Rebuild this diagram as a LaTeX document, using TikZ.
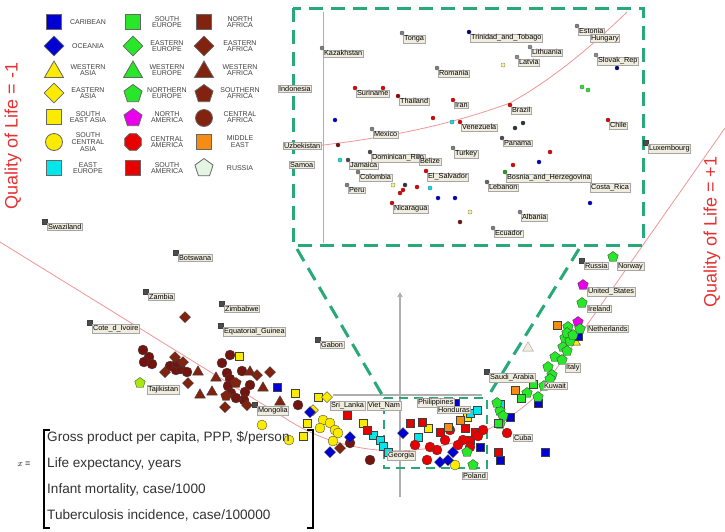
\documentclass[tikz,border=0pt]{standalone}
\usepackage{fontspec}
\setmainfont{Liberation Sans}
\usetikzlibrary{shapes.geometric,arrows.meta}

\definecolor{zoomgreen}{RGB}{40,170,120}
\definecolor{curvered}{RGB}{240,150,150}
\definecolor{axisgray}{RGB}{175,175,175}
\definecolor{labfill}{RGB}{240,236,222}
\definecolor{mblue}{RGB}{0,0,210}
\definecolor{myellow}{RGB}{250,235,0}
\definecolor{mcyan}{RGB}{0,230,235}
\definecolor{mgreen}{RGB}{40,230,40}
\definecolor{mmag}{RGB}{235,0,235}
\definecolor{mred}{RGB}{230,0,0}
\definecolor{mbrown}{RGB}{130,35,15}
\definecolor{mbrownc}{RGB}{115,20,15}
\definecolor{morange}{RGB}{245,140,20}
\definecolor{mpale}{RGB}{228,245,228}
\definecolor{axred}{RGB}{230,50,50}

\newcommand\labfont{\fontsize{7.3}{7.6}\selectfont}
\newcommand\legfont{\fontsize{7}{6.8}\selectfont}

\begin{document}
\begin{tikzpicture}[x=1pt,y=-1pt,
  mk/.style={draw=black!75, line width=0.35pt, inner sep=0pt, outer sep=0pt},
  msq/.style={mk, rectangle, minimum size=8.5pt},
  mdi/.style={mk, diamond, minimum size=11pt},
  mtr/.style={mk, regular polygon, regular polygon sides=3, minimum size=12.5pt},
  mpe/.style={mk, regular polygon, regular polygon sides=5, minimum size=11pt},
  mci/.style={mk, circle, minimum size=10pt},
  lk/.style={mk, rectangle, minimum size=5pt, fill=black!70},
  dot/.style={circle, draw=black!70, line width=0.2pt, inner sep=0pt, minimum size=4.2pt},
  lab/.style={draw=black!35, fill=labfill, inner sep=0.9pt, font=\labfont, anchor=north west},
  lg/.style={draw=black!60, line width=0.8pt, inner sep=0pt},
  lsq/.style={lg, rectangle, minimum size=15pt},
  ldi/.style={lg, diamond, minimum size=20pt},
  ltr/.style={lg, regular polygon, regular polygon sides=3, minimum size=22pt},
  lpe/.style={lg, regular polygon, regular polygon sides=5, minimum size=19pt},
  lci/.style={lg, circle, minimum size=17pt},
  loc/.style={lg, regular polygon, regular polygon sides=8, minimum size=18pt},
  lgt/.style={font=\legfont, align=center, text=black!75},
  zoomdash/.style={draw=zoomgreen, line width=3pt, dash pattern=on 14pt off 8pt},
  curve/.style={draw=curvered, line width=0.8pt},
  axlab/.style={text=axred, font=\fontsize{18}{19}\selectfont, rotate=90}
]
\useasboundingbox (0,0) rectangle (725,531);
\fill[white] (0,0) rectangle (725,531);

% ---------------- principal curve ----------------
\draw[curve] (0,242) -- (285,418) .. controls (360,468) and (470,462) .. (540,392) -- (725,128);

% ---------------- axis titles ----------------
\node[axlab] (qlm) at (13,136) {Quality of Life = -1};
\node[axlab] (qlp) at (712,232) {Quality of Life = +1};

% ---------------- legend ----------------
\node[lsq, fill=mblue]   (lg1) at (54,22) {};  \node[lgt] (lt1) at (88,22) {CARIBEAN};
\node[ldi, fill=mblue]   (lg2) at (54,46) {};  \node[lgt] (lt2) at (88,46) {OCEANIA};
\node[ltr, fill=myellow] (lg3) at (54,72) {};  \node[lgt] (lt3) at (88,70) {WESTERN\\ASIA};
\node[ldi, fill=myellow] (lg4) at (54,93) {};  \node[lgt] (lt4) at (88,93) {EASTERN\\ASIA};
\node[lsq, fill=myellow] (lg5) at (54,117) {}; \node[lgt] (lt5) at (88,117) {SOUTH\\EAST ASIA};
\node[lci, fill=myellow] (lg6) at (54,142) {}; \node[lgt] (lt6) at (88,142) {SOUTH\\CENTRAL\\ASIA};
\node[lsq, fill=mcyan]   (lg7) at (54,168) {}; \node[lgt] (lt7) at (88,168) {EAST\\EUROPE};

\node[lsq, fill=mgreen]  (lg8) at (133,22) {};  \node[lgt] (lt8) at (167,22) {SOUTH\\EUROPE};
\node[ldi, fill=mgreen]  (lg9) at (133,46) {};  \node[lgt] (lt9) at (167,46) {EASTERN\\EUROPE};
\node[ltr, fill=mgreen]  (lg10) at (133,72) {}; \node[lgt] (lt10) at (167,70) {WESTERN\\EUROPE};
\node[lpe, fill=mgreen]  (lg11) at (133,94) {}; \node[lgt] (lt11) at (167,93) {NORTHERN\\EUROPE};
\node[lpe, fill=mmag]    (lg12) at (133,118) {};\node[lgt] (lt12) at (167,117) {NORTH\\AMERICA};
\node[loc, fill=mred]    (lg13) at (133,142) {};\node[lgt] (lt13) at (167,142) {CENTRAL\\AMERICA};
\node[lsq, fill=mred]    (lg14) at (133,168) {};\node[lgt] (lt14) at (167,168) {SOUTH\\AMERICA};

\node[lsq, fill=mbrown]  (lg15) at (204,22) {};  \node[lgt] (lt15) at (240,22) {NORTH\\AFRICA};
\node[ldi, fill=mbrown]  (lg16) at (204,46) {};  \node[lgt] (lt16) at (240,46) {EASTERN\\AFRICA};
\node[ltr, fill=mbrown]  (lg17) at (204,72) {};  \node[lgt] (lt17) at (240,70) {WESTERN\\AFRICA};
\node[lpe, fill=mbrown]  (lg18) at (204,94) {};  \node[lgt] (lt18) at (240,93) {SOUTHERN\\AFRICA};
\node[lci, fill=mbrown]  (lg19) at (204,118) {}; \node[lgt] (lt19) at (240,117) {CENTRAL\\AFRICA};
\node[lsq, fill=morange] (lg20) at (204,142) {}; \node[lgt] (lt20) at (240,142) {MIDDLE\\EAST};
\node[lpe, fill=mpale]   (lg21) at (204,168) {}; \node[lgt] (lt21) at (240,168) {RUSSIA};

% ---------------- enlarged view ----------------
\draw[zoomdash] (293,8) rectangle (643,245);
\draw[axisgray, line width=1pt] (323,12) -- (323,243);
\draw[curve] (295,148) .. controls (380,140) and (450,125) .. (510,103) .. controls (560,75) and (600,38) .. (627,12);

% unlabelled dots of the enlarged view
\foreach \x/\y/\c [count=\i] in {503/65/myellow!40, 582/87/mgreen, 588/90/mgreen, 335/120/mblue,
  338/145/mbrownc, 340/160/mcyan, 433/118/mred, 452/122/mcyan, 393/185/myellow!50,
  405/185/black!80, 403/190/mred, 400/193/mred, 417/187/mred, 430/188/mcyan,
  438/198/mblue, 455/198/mblue, 470/212/myellow!40, 460/222/mbrownc, 550/152/mred,
  513/165/mred, 539/162/mblue, 590/203/mblue, 523/123/black!80, 515/128/black!80}
  \node[dot, fill=\c] (iv\i) at (\x,\y) {};

% labelled dots of the enlarged view
\foreach \x/\y/\c/\t [count=\i] in {
  322/48/black!50/Kazakhstan, 402/33/black!50/Tonga, 469/32/mblue!60!black/Trinidad\_and\_Tobago,
  577/26/black!50/Estonia, 530/47/black!45/Lithuania, 517/57/black!45/Latvia,
  437/68/black!50/Romania, 596/55/black!45/Slovak\_Rep, 355/88/mred/Suriname,
  398/96/mred!70!black/Thailand, 453/100/mred/Iran, 460/122/mred/Venezuela,
  372/129/black!50/Mexico, 348/160/black!70/Jamaica, 370/152/black!70/Dominican\_Rep,
  358/172/black!50/Colombia, 347/185/black!50/Peru, 418/156/black!50/Belize,
  453/148/black!50/Turkey, 426/171/mred/El\_Salvador, 392/203/mred/Nicaragua,
  487/182/black!60/Lebanon, 505/172/mgreen!70!black/Bosnia\_and\_Herzegovina,
  502/138/black!70/Panama, 510/105/mred/Brazil, 608/120/mred/Chile,
  520/212/black!50/Albania, 493/228/black!50/Ecuador}
  {\node[dot, fill=\c] (id\i) at (\x,\y) {};
   \node[lab] (il\i) at ([xshift=1pt,yshift=-1.5pt]id\i.center) {\t};}
\node[lab] (ilx1) at (590,34) {Hungary};
\node[lab] (ilx2) at (590,183) {Costa\_Rica};
\node[lab] (ilx3) at (278,85) {Indonesia};
\node[lab] (ilx4) at (283,142) {Uzbekistan};
\node[lab] (ilx5) at (289,161) {Samoa};
\node[dot, fill=mblue!60!black] (idx1) at (617,68) {};
\node[dot, fill=mred] (idx2) at (383,88) {};

% ---------------- gray axes and zoomed region ----------------
\draw[axisgray, line width=1.5pt] (333,395) -- (482,395);
\draw[axisgray, line width=1.8pt, -{Triangle[length=5pt,width=5pt]}] (400,497) -- (400,292);

\coordinate (inBL) at (297,249);
\coordinate (inBR) at (579,249);
\coordinate (srTL) at (384,398);
\coordinate (srTR) at (487,398);
\coordinate (srBR) at (487,468);
\coordinate (srBL) at (384,468);
\draw[zoomdash] (inBL) -- (srTL);
\draw[zoomdash] (inBR) -- (srTR);
\draw[zoomdash, line width=2.2pt, dash pattern=on 9pt off 6pt] (srTL) -- (srTR) -- (srBR) -- (srBL) -- cycle;

% ---------------- scatter: Africa ----------------
\foreach \x/\y [count=\i] in {143/350, 149/357, 144/362, 152/364, 170/366, 176/370, 181/369, 177/363,
  230/355, 222/363, 227/373, 230/379, 228/386, 231/393, 245/392, 244/400, 250/385, 242/371,
  298/405, 350/443, 370/460, 187/372, 236/398}
  \node[mci, fill=mbrownc] (afc\i) at (\x,\y) {};
\foreach \x/\y [count=\i] in {175/357, 185/317, 183/362, 188/383, 257/375, 270/372, 340/448, 225/407, 247/405, 165/372}
  \node[mdi, fill=mbrown] (afd\i) at (\x,\y) {};
\foreach \x/\y [count=\i] in {198/372, 212/392, 200/395, 263/388, 280/402, 250/372, 216/378}
  \node[mtr, fill=mbrown] (aft\i) at (\x,\y) {};
\foreach \x/\y [count=\i] in {236/383, 226/396}
  \node[mpe, fill=mbrown] (afp\i) at (\x,\y) {};

% ---------------- scatter: Asia ----------------
\foreach \x/\y [count=\i] in {239/356, 295/393, 318/397, 307/423, 363/423, 428/428, 467/417, 303/436}
  \node[msq, fill=myellow] (asq\i) at (\x,\y) {};
\foreach \x/\y [count=\i] in {323/420, 330/423, 335/430, 338/433, 333/441, 320/428, 455/465, 289/440, 262/425}
  \node[mci, fill=myellow] (asc\i) at (\x,\y) {};
\foreach \x/\y [count=\i] in {327/397, 313/410}
  \node[mdi, fill=myellow] (asd\i) at (\x,\y) {};
\node[mtr, fill=myellow] (ast1) at (575,342) {};
\node[mpe, fill=myellow!60!mgreen] (asp1) at (140,383) {};
\node[mtr, fill=labfill, draw=black!40] (rus1) at (528,348) {};

% ---------------- scatter: Caribbean, Oceania, East Europe ----------------
\foreach \x/\y [count=\i] in {277/387, 455/403, 538/403, 500/460, 480/447, 510/417, 578/336, 545/452}
  \node[msq, fill=mblue] (cbs\i) at (\x,\y) {};
\foreach \x/\y [count=\i] in {310/412, 350/437, 403/433, 440/462, 448/460, 453/452, 330/452}
  \node[mdi, fill=mblue] (ocd\i) at (\x,\y) {};
\foreach \x/\y [count=\i] in {373/435, 380/440, 383/446, 418/437, 470/413, 477/410, 500/404, 388/452}
  \node[msq, fill=mcyan] (ees\i) at (\x,\y) {};

% ---------------- scatter: America ----------------
\foreach \x/\y [count=\i] in {347/415, 410/423, 422/422, 440/432, 367/430, 498/452, 470/440, 475/432, 465/428}
  \node[msq, fill=mred] (sas\i) at (\x,\y) {};
\foreach \x/\y [count=\i] in {430/447, 437/450, 427/460, 450/430, 463/440, 478/436, 483/430, 470/447,
  507/433, 458/445, 445/440, 415/445}
  \node[mci, fill=mred] (cac\i) at (\x,\y) {};
\foreach \x/\y [count=\i] in {583/285, 578/322}
  \node[mpe, fill=mmag] (nap\i) at (\x,\y) {};

% ---------------- scatter: Middle East ----------------
\foreach \x/\y [count=\i] in {448/427, 515/390, 557/325, 460/420}
  \node[msq, fill=morange] (mes\i) at (\x,\y) {};

% ---------------- scatter: Europe ----------------
\foreach \x/\y [count=\i] in {500/411, 503/416, 500/424, 497/403, 527/393, 538/397, 548/367, 552/375,
  550/379, 555/357, 562/360, 563/347, 567/351, 565/338, 570/341, 568/327, 567/333, 573/335,
  580/329, 582/303, 613/257, 467/452, 473/465, 544/386}
  \node[mpe, fill=mgreen] (eup\i) at (\x,\y) {};
\foreach \x/\y [count=\i] in {498/423, 533/384, 521/398}
  \node[msq, fill=mgreen] (eus\i) at (\x,\y) {};

% ---------------- labelled countries ----------------
\foreach \x/\y/\t [count=\i] in {45/222/Swaziland, 176/253/Botswana, 146/292/Zambia, 222/304/Zimbabwe,
  221/326/Equatorial\_Guinea, 318/340/Gabon, 90/323/Cote\_d\_Ivoire, 255/405/Mongolia,
  582/261/Russia, 487/372/Saudi\_Arabia, 646/143/Luxembourg}
  {\node[lk] (ck\i) at (\x,\y) {};
   \node[lab] (cl\i) at ([xshift=2pt,yshift=-1pt]ck\i.center) {\t};}
\node[lab] (cl12) at (147,385) {Tajikistan};
\node[lab] (cl13) at (330,401) {Sri\_Lanka};
\node[lab] (cl14) at (367,401) {Viet\_Nam};
\node[lab] (cl15) at (417,398) {Philippines};
\node[lab] (cl16) at (437,406) {Honduras};
\node[lab] (cl17) at (387,451) {Georgia};
\node[lab] (cl18) at (462,472) {Poland};
\node[lab] (cl19) at (513,434) {Cuba};
\node[lab] (cl20) at (617,262) {Norway};
\node[lab] (cl21) at (587,287) {United\_States};
\node[lab] (cl22) at (587,305) {Ireland};
\node[lab] (cl23) at (587,325) {Netherlands};
\node[lab] (cl24) at (565,363) {Italy};
\node[lab] (cl25) at (543,382) {Kuwait};

% ---------------- indicator vector ----------------
\node[font=\fontsize{9}{10}\selectfont] (xeq) at (24,464) {$x$ =};
\draw[line width=1.6pt] (50,430) -- (44,430) -- (44,528) -- (50,528);
\draw[line width=1.6pt] (307,430) -- (313,430) -- (313,528) -- (307,528);
\node[anchor=north west, inner sep=0pt, align=left, text=black!80,
      font=\fontsize{13.6}{26}\selectfont] (vec) at (47,431)
  {Gross product per capita, PPP, \$/person\\Life expectancy, years\\Infant mortality, case/1000\\Tuberculosis incidence, case/100000};
\end{tikzpicture}
\end{document}
